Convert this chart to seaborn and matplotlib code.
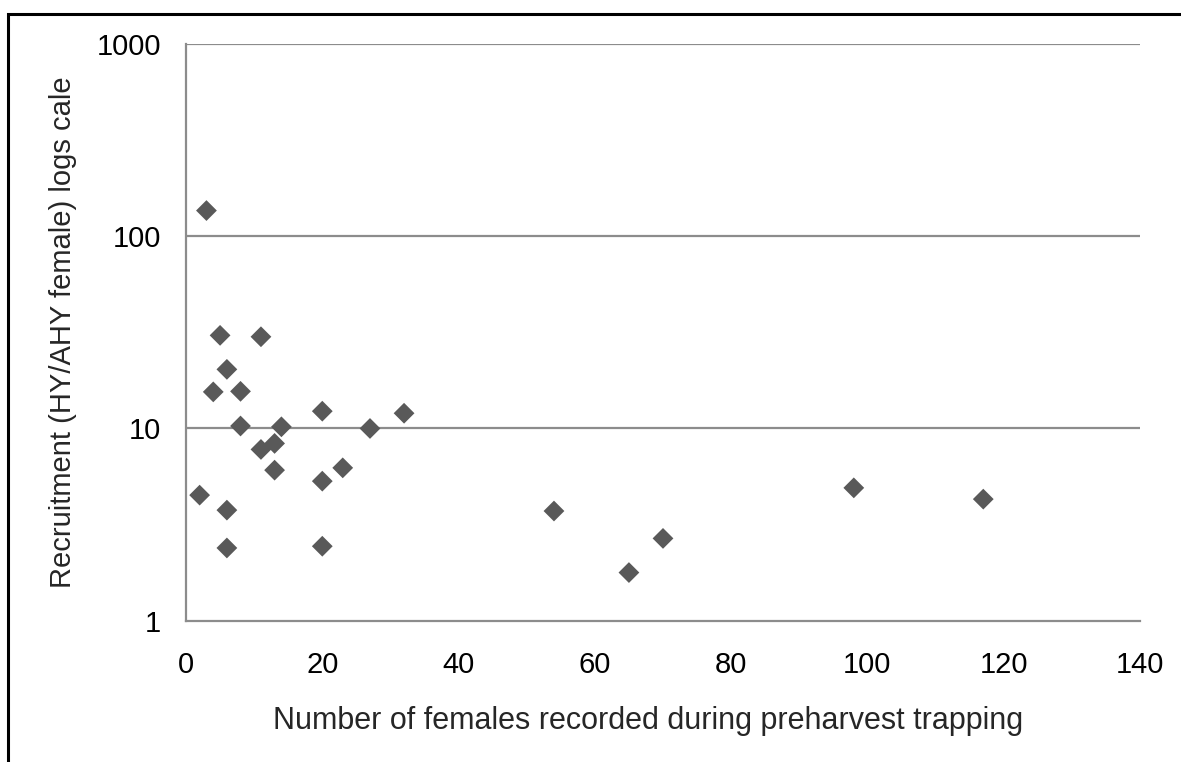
import matplotlib
matplotlib.use("Agg")
import matplotlib.pyplot as plt
import seaborn as sns
import pandas as pd
from matplotlib.patches import Rectangle
from matplotlib.ticker import FixedLocator, FixedFormatter, NullLocator

females = [3, 5, 11, 6, 4, 8, 8, 14, 20, 27, 32,
           2, 6, 6, 11, 13, 13, 20, 23, 20,
           54, 70, 65, 98, 117]
recruitment = [136, 30.5, 30, 20.3, 15.5, 15.6, 10.3, 10.2, 12.3, 10.0, 12.0,
               4.5, 3.76, 2.39, 7.78, 8.36, 6.07, 5.32, 6.24, 2.44,
               3.72, 2.68, 1.78, 4.91, 4.29]
x_ticks = [0, 20, 40, 60, 80, 100, 120, 140]
y_ticks = [1, 10, 100, 1000]
y_tick_labels = ["1", "10", "100", "1000"]

df = pd.DataFrame({"females": females, "recruitment": recruitment})

sns.set_style("white")
plt.rcParams["font.family"] = ["Liberation Sans", "DejaVu Sans"]

W, H = 1181, 762
fig = plt.figure(figsize=(W / 100, H / 100), dpi=100)
ax = fig.add_axes([186 / W, 1 - 620.7 / H, (1140 - 186) / W, (620.7 - 44) / H])

grid_c = "#8c8c8c"
ax.set_yscale("log")
ax.set_xlim(0, 140)
ax.set_ylim(1, 1000)

for yv in y_ticks[1:]:
    ax.axhline(yv, color=grid_c, lw=1.6, zorder=1)

sns.scatterplot(data=df, x="females", y="recruitment", ax=ax, marker="D",
                s=112, color="#595959", edgecolor="none", linewidth=0, zorder=3)

ax.xaxis.set_major_locator(FixedLocator(x_ticks))
ax.yaxis.set_major_locator(FixedLocator(y_ticks))
ax.yaxis.set_major_formatter(FixedFormatter(y_tick_labels))
ax.yaxis.set_minor_locator(NullLocator())
ax.tick_params(axis="both", which="major", direction="out", length=9, width=1.6,
               color=grid_c, labelsize=21, labelcolor="black")
ax.tick_params(axis="x", pad=13)
ax.tick_params(axis="y", pad=9)

for side in ["top", "right"]:
    ax.spines[side].set_visible(False)
for side in ["left", "bottom"]:
    ax.spines[side].set_color(grid_c)
    ax.spines[side].set_linewidth(1.6)

ax.set_xlabel("")
ax.set_ylabel("")
fig.text(648 / W, 1 - 729 / H, "Number of females recorded during preharvest trapping",
         ha="center", va="baseline", fontsize=22)
fig.text(63 / W, 1 - 332 / H, "Recruitment (HY/AHY female) logs cale",
         ha="center", va="center", rotation=90, fontsize=21)

fig.patches.append(Rectangle((8 / W, -0.1), 1.2, 1 - 14 / H + 0.1, transform=fig.transFigure,
                             fill=False, edgecolor="black", linewidth=2.2, zorder=10))

fig.savefig("out.png", dpi=100, facecolor="white")
